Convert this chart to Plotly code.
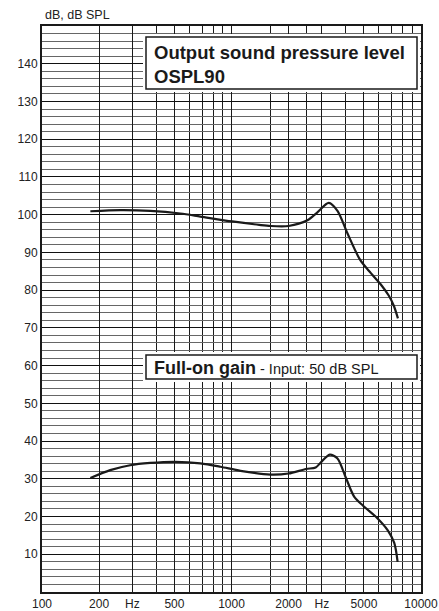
import plotly.graph_objects as go

# ---- data ----
ospl_freq = [180, 260, 373, 537, 685, 1009, 1400, 1608, 2000, 2515, 2840, 3260, 3625, 4095, 4774, 5438, 6138, 6768, 7195, 7556]
ospl_db = [100.9, 101.2, 101.0, 100.3, 99.5, 98.2, 97.3, 97.0, 97.0, 98.5, 100.6, 103.1, 101.0, 95.0, 88.0, 84.5, 81.5, 78.5, 75.8, 72.5]

gain_freq = [180, 229, 292, 373, 505, 685, 874, 1116, 1608, 2000, 2470, 2780, 2958, 3300, 3625, 4020, 4437, 5014, 5900, 6665, 7225, 7527]
gain_db = [30.2, 32.3, 33.6, 34.2, 34.5, 34.1, 33.2, 32.1, 31.1, 31.4, 32.6, 33.0, 34.3, 36.4, 35.4, 30.2, 25.3, 22.6, 19.5, 16.4, 13.0, 8.0]

x_tick_vals = [100, 200, 300, 500, 1000, 2000, 3000, 5000, 10000]
x_tick_text = ["100", "200", "Hz", "500", "1000", "2000", "Hz", "5000", "10000"]
x_minor_vals = [400, 600, 700, 800, 900, 1600, 2500, 4000, 6000, 7000, 8000, 9000]

y_tick_vals = list(range(0, 151, 10))
y_tick_text = ["" if v in (0, 150) else str(v) for v in y_tick_vals]

y_title = "dB, dB SPL"
box1_text = "<b>Output sound pressure level<br>OSPL90</b>"
box2_text = "<b>Full-on gain</b><span style=\"font-size:14.5px\"> - Input: 50 dB SPL</span>"

TICKFONT = "Liberation Sans, Arial, Helvetica, sans-serif"
BOXFONT = "Liberation Sans, Arial, Helvetica, sans-serif"

fig = go.Figure()
line_style = dict(color="#1a1a1a", width=2.2, shape="spline", smoothing=0.8)
fig.add_trace(go.Scatter(x=ospl_freq, y=ospl_db, mode="lines", line=line_style, hoverinfo="skip"))
fig.add_trace(go.Scatter(x=gain_freq, y=gain_db, mode="lines", line=line_style, hoverinfo="skip"))

W, H = 439, 611
L, R, T, B = 42, 18, 26, 19
pw, ph = W - L - R, H - T - B

def px_x(x):
    return (x - L) / pw

def px_y(y):
    return (H - B - y) / ph

fig.update_layout(
    width=W, height=H,
    margin=dict(l=L, r=R, t=T, b=B, autoexpand=False),
    paper_bgcolor="white", plot_bgcolor="white",
    showlegend=False,
    font=dict(family=TICKFONT, size=12, color="#222"),
    xaxis=dict(
        type="log", range=[2, 4],
        tickmode="array", tickvals=x_tick_vals, ticktext=x_tick_text,
        showgrid=True, gridcolor="#1a1a1a", gridwidth=1,
        minor=dict(tickmode="array", tickvals=x_minor_vals, showgrid=True, gridcolor="#1a1a1a", gridwidth=1, ticks=""),
        showline=True, linecolor="#1a1a1a", linewidth=2, mirror=True,
        ticks="", ticklen=0, zeroline=False, automargin=False,
        tickfont=dict(family=TICKFONT, size=12, color="#222"),
    ),
    yaxis=dict(
        range=[0, 150],
        tickmode="array", tickvals=y_tick_vals, ticktext=y_tick_text,
        showgrid=True, gridcolor="#111", gridwidth=1,
        minor=dict(dtick=2, tick0=0, showgrid=True, gridcolor="#666", gridwidth=1, ticks=""),
        showline=True, linecolor="#1a1a1a", linewidth=2, mirror=True,
        ticks="", ticklen=0, zeroline=False, automargin=False,
        tickfont=dict(family=TICKFONT, size=12, color="#222"),
    ),
)

# label boxes: white clearance, then framed white box
for (x0, y0, x1, y1) in [(146, 37, 417, 89), (146, 355, 417, 379)]:
    fig.add_shape(type="rect", xref="paper", yref="paper",
                  x0=px_x(x0 - 3), x1=px_x(x1 + 3), y0=px_y(y1 + 3), y1=px_y(y0 - 3),
                  fillcolor="white", line=dict(width=0), layer="above")
    fig.add_shape(type="rect", xref="paper", yref="paper",
                  x0=px_x(x0), x1=px_x(x1), y0=px_y(y1), y1=px_y(y0),
                  fillcolor="white", line=dict(color="#1a1a1a", width=1.5), layer="above")

fig.add_annotation(text=y_title, xref="paper", yref="paper",
                   x=px_x(43), y=px_y(15), xanchor="left", yanchor="middle",
                   showarrow=False, font=dict(family=TICKFONT, size=12.5, color="#222"))

fig.add_annotation(text=box1_text, xref="paper", yref="paper",
                   x=px_x(152), y=px_y(64), xanchor="left", yanchor="middle",
                   showarrow=False, align="left",
                   font=dict(family=BOXFONT, size=18.5, color="#1a1a1a"))

fig.add_annotation(text=box2_text, xref="paper", yref="paper",
                   x=px_x(152), y=px_y(367.5), xanchor="left", yanchor="middle",
                   showarrow=False, align="left",
                   font=dict(family=BOXFONT, size=18, color="#1a1a1a"))

fig.write_html("out.html", config={"displayModeBar": False, "staticPlot": True},
               post_script="document.body.style.margin='0';document.body.style.padding='0';")
